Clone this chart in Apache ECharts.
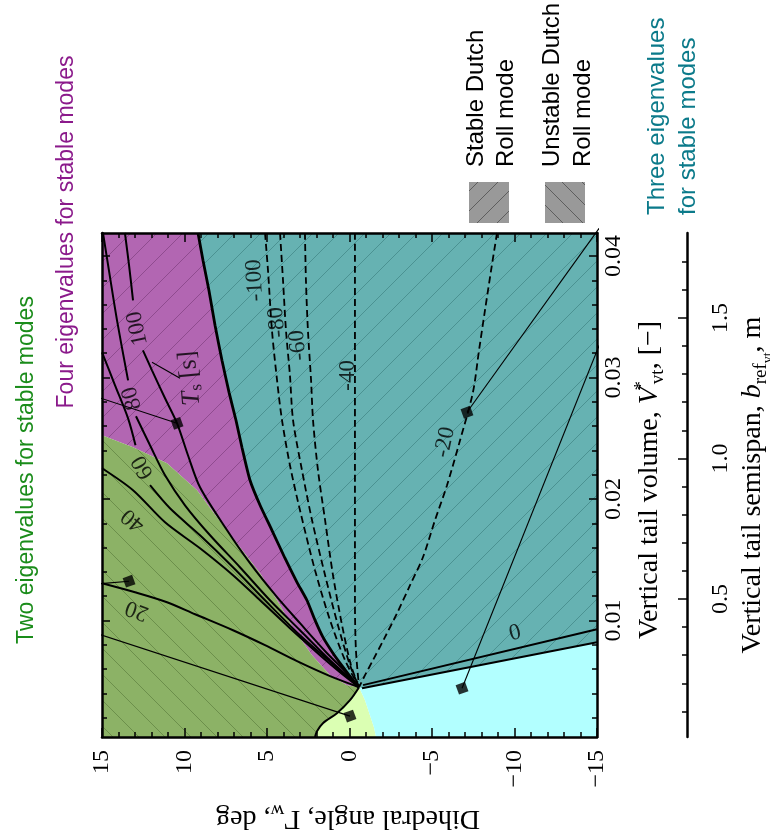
<!DOCTYPE html>
<html>
<head>
<meta charset="utf-8">
<title>Dutch roll stability map</title>
<script src="https://cdn.jsdelivr.net/npm/echarts@6.0.0/dist/echarts.min.js"></script>
<style>
  html, body { margin: 0; padding: 0; background: #ffffff; }
  #chart { width: 770px; height: 836px; }
</style>
</head>
<body>
<div id="chart"></div>
<script>
// ---------- axis extents and tick values ----------
const dihedralRange = [-15, 15];
const volumeRange = [0.0004, 0.0419];
const semispanRange = [0.009, 1.802];
const volumeTicks = [0.01, 0.02, 0.03, 0.04];
const volumeMinorTicks = [0.002, 0.004, 0.006, 0.008, 0.012, 0.014, 0.016, 0.018,
  0.022, 0.024, 0.026, 0.028, 0.032, 0.034, 0.036, 0.038];
const semispanTicks = [0.5, 1.0, 1.5];
const semispanMinorTicks = [0.1, 0.2, 0.3, 0.4, 0.6, 0.7, 0.8, 0.9, 1.1, 1.2, 1.3, 1.4, 1.6, 1.7];

// ---------- region boundaries, points are [dihedral deg, V*vt] ----------
const junction = [-0.58, 0.0045];
// stable / unstable Dutch roll boundary (thick line)
const dutchRollBoundary = [[9.18, 0.0419], [8.88, 0.03965], [8.52, 0.03718], [8.15, 0.0343],
  [7.73, 0.03142], [7.30, 0.02878], [6.88, 0.02648], [6.52, 0.02426], [6.03, 0.02154],
  [5.42, 0.01948], [4.70, 0.01742], [3.91, 0.01512], [3.18, 0.01314], [2.58, 0.01166],
  [2.09, 0.01002], [1.61, 0.00862], [1.00, 0.0073], [0.39, 0.00615], [-0.21, 0.00508], [-0.58, 0.0045]];
// edge between two and four stable eigenvalues
const fourModeBoundary = [[15, 0.02524], [13.12, 0.02426], [11.06, 0.02294], [9.24, 0.02072],
  [8.03, 0.01849], [6.64, 0.01603], [5.42, 0.01389], [4.39, 0.01166], [3.42, 0.00936],
  [2.27, 0.00714], [1.18, 0.00549], [0.15, 0.00467], [-0.58, 0.0045]];
// lower edge of the hatched two-eigenvalue area
const twoModeBoundary = [[-0.58, 0.0045], [-0.03, 0.00343], [0.76, 0.00236], [1.61, 0.00154],
  [1.97, 0.00088], [2.09, 0.0004]];
// edge between the two light areas
const lightBoundary = [[-0.58, 0.0045], [-0.94, 0.00343], [-1.24, 0.0022], [-1.48, 0.00121], [-1.61, 0.0004]];
// the two lines of the zero contour
const zeroContourUpper = [[-0.82, 0.00467], [-15, 0.00928]];
const zeroContourLower = [[-0.76, 0.00442], [-15, 0.00821]];

// ---------- settling time contours T_s [s] ----------
const ts20 = [[15, 0.01306], [13.0, 0.01232], [11.06, 0.0115], [9.36, 0.01051], [7.06, 0.00919],
  [5.12, 0.00796], [3.18, 0.00664], [1.18, 0.00541], [-0.58, 0.0045]];
const ts40 = [[15, 0.02253], [13.12, 0.02072], [11.18, 0.01808], [9.06, 0.01594], [7.06, 0.01372],
  [5.42, 0.01166], [3.61, 0.00936], [1.79, 0.00714], [0.58, 0.00574], [-0.58, 0.0045]];
const ts60a = [[15, 0.03208], [14.21, 0.02936], [13.42, 0.02664], [12.97, 0.02442]];
const ts60b = [[12.09, 0.02113], [10.88, 0.01923], [9.06, 0.01701], [7.06, 0.01438], [5.12, 0.01166],
  [3.0, 0.00878], [1.0, 0.0064], [-0.58, 0.0045]];
const ts80a = [[14.94, 0.0419], [14.58, 0.03882], [14.09, 0.03471], [13.42, 0.02977]];
const ts80b = [[12.94, 0.02681], [12.09, 0.02442], [11.18, 0.02195], [9.97, 0.01948], [8.45, 0.01701],
  [6.64, 0.01438], [4.82, 0.01166], [3.0, 0.00919], [1.18, 0.00672], [-0.03, 0.00524], [-0.58, 0.0045]];
const ts100a = [[13.61, 0.0419], [13.36, 0.03924], [13.12, 0.03636]];
const ts100b = [[12.52, 0.03224], [11.97, 0.03059], [11.18, 0.02829], [10.45, 0.02623], [9.79, 0.0236],
  [9.06, 0.02096], [7.42, 0.01742], [6.03, 0.01471], [4.39, 0.01191], [3.0, 0.00977], [1.36, 0.0073],
  [0.15, 0.00565], [-0.58, 0.0045]];
// negative contours (dashed)
const neg100 = [[5.12, 0.0419], [4.94, 0.03882], [4.70, 0.03389], [4.39, 0.02977], [4.09, 0.02648],
  [3.61, 0.02278], [3.0, 0.01907], [2.09, 0.01413], [1.18, 0.01002], [0.27, 0.00672], [-0.58, 0.0045]];
const neg80 = [[4.21, 0.0419], [4.03, 0.038], [3.85, 0.03389], [3.61, 0.03018], [3.42, 0.02648],
  [2.88, 0.02236], [2.27, 0.01825], [1.48, 0.01372], [0.70, 0.0096], [-0.03, 0.00631], [-0.58, 0.0045]];
const neg60 = [[2.70, 0.0419], [2.64, 0.038], [2.52, 0.03389], [2.33, 0.02977], [2.21, 0.02648],
  [1.91, 0.02236], [1.48, 0.01825], [1.0, 0.01372], [0.45, 0.0096], [-0.09, 0.00631], [-0.58, 0.0045]];
const neg40 = [[-0.33, 0.0419], [-0.33, 0.02648], [-0.33, 0.01166], [-0.39, 0.00755], [-0.58, 0.0045]];
const neg20 = [[-8.94, 0.0419], [-8.58, 0.03882], [-8.21, 0.03553], [-7.85, 0.03224], [-7.48, 0.02878],
  [-6.70, 0.02483], [-5.91, 0.02113], [-5.18, 0.01825], [-4.45, 0.0152], [-3.67, 0.0129],
  [-2.88, 0.01059], [-2.15, 0.00862], [-1.42, 0.00672], [-0.94, 0.00549], [-0.58, 0.0045]];

// ---------- contour labels ----------
const contourLabelText = ['100', '80', '60', '40', '20', '-100', '-80', '-60', '-40', '-20', '0'];
const contourLabelPos = [[12.85, 0.03405], [13.18, 0.02829], [12.52, 0.02261], [13.12, 0.01825],
  [12.88, 0.01084], [5.73, 0.038], [4.39, 0.03455], [3.12, 0.03265], [0.09, 0.03018],
  [-5.79, 0.02467], [-10.03, 0.00895]];
const contourLabelAngle = [102, 106, 119, 140, 160, 93, 95, 95, 90, 78, 14];
const settlingLabelPos = [9.67, 0.02994];

// ---------- sample points marked on the map ----------
const samplePoints = [[10.45, 0.02623], [13.36, 0.01323], [-0.03, 0.00212], [-7.12, 0.02714], [-6.82, 0.00442]];
const leaderLines = [
  [[16.33, 0.02886], [10.45, 0.02623]],
  [[18.33, 0.01265], [13.36, 0.01323]],
  [[18.33, 0.01026], [-0.03, 0.00212]],
  [[-17.79, 0.04731], [-7.12, 0.02714]],
  [[-18.09, 0.04269], [-6.82, 0.00442]],
  [[11.97, 0.03125], [10.27, 0.02994]]
];

// ---------- fills ----------
function hatch(base, stroke, dir, step) {
  const c = document.createElement('canvas');
  c.width = step; c.height = step;
  const g = c.getContext('2d');
  g.fillStyle = base;
  g.fillRect(0, 0, step, step);
  g.strokeStyle = stroke;
  g.lineWidth = 1;
  g.beginPath();
  for (const k of [-1, 0, 1]) {
    if (dir === '/') { g.moveTo(k * step, step); g.lineTo(k * step + step, 0); }
    else { g.moveTo(k * step, 0); g.lineTo(k * step + step, step); }
  }
  g.stroke();
  return { image: c, repeat: 'repeat' };
}

const vMin = volumeRange[0], vMax = volumeRange[1];
const dLeft = dihedralRange[1], dRight = dihedralRange[0];
const rev = a => a.slice().reverse();

const tealArea = [[dRight, vMax]].concat(rev(zeroContourLower), rev(dutchRollBoundary));
const purpleArea = [[dLeft, vMax]].concat(dutchRollBoundary, rev(fourModeBoundary));
const greenArea = fourModeBoundary.concat(twoModeBoundary.slice(1), [[dLeft, vMin]]);
const paleArea = twoModeBoundary.concat(rev(lightBoundary).slice(0, -1));
const cyanArea = lightBoundary.concat([[dRight, vMin]], rev(zeroContourLower));

function area(points, fill) {
  return {
    type: 'custom', silent: true, z: 1, animation: false,
    data: [[0, 0.02]],
    renderItem: (params, api) => ({
      type: 'polygon',
      shape: { points: points.map(p => api.coord(p)) },
      style: { fill: fill, stroke: null }
    })
  };
}

function curve(points, opts) {
  return {
    type: 'line', data: points, symbol: 'none', silent: true, animation: false,
    smooth: opts.smooth === undefined ? 0.3 : opts.smooth, z: 3, clip: opts.clip !== false,
    lineStyle: { color: '#000', width: opts.width, type: opts.dash ? [7, 4] : 'solid' }
  };
}

const serif = '"Liberation Serif", "Times New Roman", serif';
const signed = v => (v < 0 ? '\u2212' + Math.abs(v) : String(v));

const series = [
  area(tealArea, hatch('#66b2b2', 'rgba(20,80,80,0.32)', '/', 26)),
  area(purpleArea, hatch('#b266b2', 'rgba(70,20,70,0.32)', '/', 26)),
  area(greenArea, hatch('#8cb266', 'rgba(40,70,20,0.32)', '\\', 26)),
  area(paleArea, '#dbffb3'),
  area(cyanArea, '#b2ffff'),
  curve(dutchRollBoundary, { width: 2.8, smooth: 0.2 }),
  curve(twoModeBoundary, { width: 2, smooth: 0.3 }),
  curve(zeroContourUpper, { width: 2, smooth: 0 }),
  curve(zeroContourLower, { width: 2, smooth: 0 }),
  curve(ts20, { width: 2 }), curve(ts40, { width: 2 }),
  curve(ts60a, { width: 2 }), curve(ts60b, { width: 2 }),
  curve(ts80a, { width: 2 }), curve(ts80b, { width: 2 }),
  curve(ts100a, { width: 2 }), curve(ts100b, { width: 2 }),
  curve(neg100, { width: 1.8, dash: true }), curve(neg80, { width: 1.8, dash: true }),
  curve(neg60, { width: 1.8, dash: true }), curve(neg40, { width: 1.8, dash: true }),
  curve(neg20, { width: 1.8, dash: true })
];
leaderLines.forEach(l => series.push(curve(l, { width: 1.1, smooth: 0, clip: false })));
series.push({
  type: 'scatter', data: samplePoints, symbol: 'rect', symbolSize: 10, symbolRotate: 20,
  itemStyle: { color: '#000' }, z: 5, silent: true, animation: false
});
series.push({
  type: 'scatter', symbolSize: 0, z: 6, silent: true, animation: false,
  label: { show: true, position: 'inside', color: '#000', fontFamily: serif, fontSize: 23 },
  data: contourLabelText.map((t, i) => ({
    value: contourLabelPos[i],
    label: { formatter: t, rotate: contourLabelAngle[i] }
  })).concat([{
    value: settlingLabelPos,
    label: {
      rotate: 95,
      formatter: '{t|T}{s|s}{n| [s]}',
      rich: {
        t: { fontFamily: serif, fontStyle: 'italic', fontSize: 26, color: '#000' },
        s: { fontFamily: serif, fontSize: 17, color: '#000', padding: [12, 0, 0, 0] },
        n: { fontFamily: serif, fontSize: 26, color: '#000' }
      }
    }
  }])
});

const tickLine = { color: '#000', width: 1.5 };
const frameLine = { show: true, onZero: false, lineStyle: { color: '#000', width: 2.5 } };
const noLine = { show: false, onZero: false };

function xAxisCfg(pos, labels) {
  return {
    type: 'value', position: pos, min: dihedralRange[0], max: dihedralRange[1], inverse: true,
    interval: 5, z: 10, axisLine: frameLine, splitLine: { show: false },
    axisTick: { show: true, inside: true, length: 9, lineStyle: tickLine },
    minorTick: { show: true, splitNumber: 5, length: 5, lineStyle: tickLine },
    axisLabel: labels ? { show: true, rotate: 90, margin: 13, color: '#000', fontFamily: serif,
      fontSize: 24, formatter: signed } : { show: false }
  };
}
function yAxisCfg(pos, range, ticks, len, line, label, offset) {
  return {
    type: 'value', position: pos, min: range[0], max: range[1], offset: offset || 0, z: 10,
    axisLine: line ? frameLine : noLine, splitLine: { show: false },
    axisTick: { show: true, inside: true, length: len, lineStyle: tickLine, customValues: ticks },
    axisLabel: label ? Object.assign({ show: true, rotate: 90, color: '#000', fontFamily: serif,
      fontSize: 24, customValues: ticks }, label) : { show: false }
  };
}

const titleRich = {
  n: { fontFamily: serif, fontSize: 28, color: '#000' },
  i: { fontFamily: serif, fontSize: 28, fontStyle: 'italic', color: '#000' },
  sup: { fontFamily: serif, fontSize: 19, color: '#000', padding: [0, 0, 16, 0], width: 3 },
  sub: { fontFamily: serif, fontSize: 19, color: '#000', padding: [16, 0, 0, 0] },
  subsub: { fontFamily: serif, fontSize: 14, color: '#000', padding: [30, 0, 0, 0] }
};

function rotText(x, y, rot, text, font, fill, align) {
  return { type: 'text', x: x, y: y, rotation: rot, silent: true,
    style: { text: text, font: font, fill: fill, align: align || 'center', verticalAlign: 'middle' } };
}

const sansFont = '24px "Liberation Sans", Arial, sans-serif';
const noteFont = '23px "Liberation Sans", Arial, sans-serif';
const graphic = [
  // legend swatches
  { type: 'rect', silent: true, shape: { x: 469, y: 182, width: 40, height: 41 },
    style: { fill: hatch('#999999', '#5e5e5e', '/', 20) } },
  { type: 'rect', silent: true, shape: { x: 545, y: 182, width: 40, height: 41 },
    style: { fill: hatch('#999999', '#5e5e5e', '\\', 20) } },
  rotText(476, 167, Math.PI / 2, 'Stable Dutch', sansFont, '#000', 'left'),
  rotText(506, 167, Math.PI / 2, 'Roll mode', sansFont, '#000', 'left'),
  rotText(552, 167, Math.PI / 2, 'Unstable Dutch', sansFont, '#000', 'left'),
  rotText(583, 167, Math.PI / 2, 'Roll mode', sansFont, '#000', 'left'),
  // mode annotations
  rotText(657, 215, Math.PI / 2, 'Three eigenvalues', sansFont, '#0b7a8a', 'left'),
  rotText(688, 215, Math.PI / 2, 'for stable modes', sansFont, '#0b7a8a', 'left'),
  rotText(67, 232, Math.PI / 2, 'Four eigenvalues for stable modes', noteFont, '#8b1a8b'),
  rotText(27, 470, Math.PI / 2, 'Two eigenvalues for stable modes', noteFont, '#1a8c1a'),
  // axis titles
  { type: 'text', x: 348, y: 818, rotation: Math.PI, silent: true,
    style: { text: '{n|Dihedral angle, \u0393}{sub|w}{n|, deg}', rich: titleRich,
      align: 'center', verticalAlign: 'middle' } },
  { type: 'text', x: 650, y: 480, rotation: Math.PI / 2, silent: true,
    style: { text: '{n|Vertical tail volume, }{i|V}{sup|*}{sub|vt}{n|, [\u2212]}', rich: titleRich,
      align: 'center', verticalAlign: 'middle' } },
  { type: 'text', x: 753, y: 485, rotation: Math.PI / 2, silent: true,
    style: { text: '{n|Vertical tail semispan, }{i|b}{sub|ref}{subsub|vt}{n|, m}', rich: titleRich,
      align: 'center', verticalAlign: 'middle' } }
];

const option = {
  animation: false,
  backgroundColor: '#ffffff',
  grid: { left: 102, top: 233, width: 495, height: 504, containLabel: false, outerBoundsMode: 'none' },
  xAxis: [xAxisCfg('bottom', true), xAxisCfg('top', false)],
  yAxis: [
    yAxisCfg('right', volumeRange, volumeTicks, 8, true,
      { margin: 5, formatter: v => v.toFixed(2) }),
    yAxisCfg('right', volumeRange, volumeMinorTicks, 5, false, null),
    yAxisCfg('left', volumeRange, volumeTicks, 8, true, null),
    yAxisCfg('left', volumeRange, volumeMinorTicks, 5, false, null),
    yAxisCfg('right', semispanRange, semispanTicks, 9, true,
      { margin: 22, formatter: v => v.toFixed(1) }, 90),
    yAxisCfg('right', semispanRange, semispanMinorTicks, 5, false, null, 90)
  ],
  series: series,
  graphic: graphic
};

const chart = echarts.init(document.getElementById('chart'), null, { renderer: 'canvas' });
chart.setOption(option);
</script>
</body>
</html>
